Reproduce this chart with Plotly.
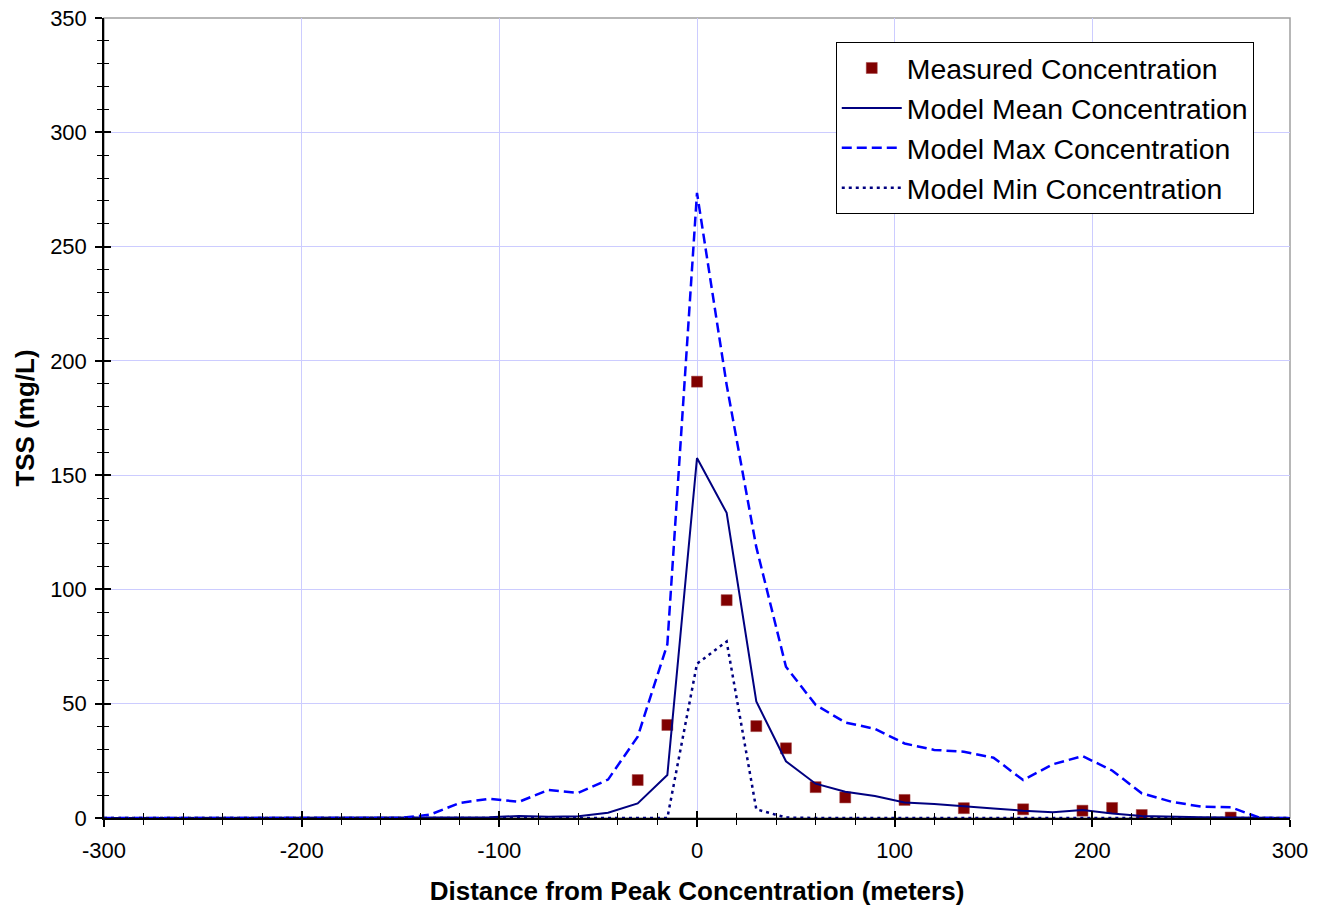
import plotly.graph_objects as go

# Model x positions (meters) every 15 m
model_x = [-300, -285, -270, -255, -240, -225, -210, -195, -180, -165, -150, -135, -120, -105, -90, -75, -60, -45, -30, -15,
           0, 15, 30, 45, 60, 75, 90, 105, 120, 135, 150, 165, 180, 195, 210, 225, 240, 255, 270, 285, 300]
model_mean = [0, 0, 0, 0, 0, 0, 0, 0, 0, 0, 0, 0, 0.1, 0.3, 0.9, 0.5, 0.8, 2.3, 6.4, 18.8,
              157.5, 133.5, 51.0, 24.8, 15.0, 11.5, 9.6, 6.8, 6.1, 5.0, 4.2, 3.2, 2.5, 3.5, 2.0, 0.9, 0.5, 0.3, 0.2, 0, 0]
model_max = [0, 0, 0, 0, 0, 0, 0, 0, 0, 0, 0, 1.5, 6.6, 8.4, 7.1, 12.3, 11.0, 16.8, 35.6, 76.0,
             273.5, 189.5, 118.5, 66.2, 49.5, 41.8, 39.0, 32.6, 29.8, 29.0, 26.4, 16.6, 23.5, 27.1, 20.8, 10.8, 7.1, 5.0, 4.7, 0, 0]
model_min = [0, 0, 0, 0, 0, 0, 0, 0, 0, 0, 0, 0, 0, 0, 0, 0, 0, 0, 0, 0,
             67.5, 77.2, 3.8, 0.2, 0, 0, 0, 0, 0, 0, 0, 0, 0, 0, 0, 0, 0, 0, 0, 0, 0]

meas_x = [-30, -15, 0, 15, 30, 45, 60, 75, 105, 135, 165, 195, 210, 225, 270]
meas_y = [16.6, 40.7, 190.9, 95.3, 40.2, 30.5, 13.5, 9.0, 7.9, 4.3, 3.8, 3.2, 4.4, 1.3, 0.2]

x_tick_vals = [-300, -200, -100, 0, 100, 200, 300]
x_tick_labels = ["-300", "-200", "-100", "0", "100", "200", "300"]

x_title = "Distance from Peak Concentration (meters)"
y_title = "TSS (mg/L)"

FONT = "Liberation Sans, Arial, sans-serif"

fig = go.Figure()
fig.add_trace(go.Scatter(x=meas_x, y=meas_y, mode="markers", name="Measured Concentration",
                         marker=dict(symbol="square", size=11, color="#800000",
                                     line=dict(width=0.5, color="#a04040"))))
fig.add_trace(go.Scatter(x=model_x, y=model_mean, mode="lines", name="Model Mean Concentration",
                         line=dict(color="#000080", width=2)))
fig.add_trace(go.Scatter(x=model_x, y=model_max, mode="lines", name="Model Max Concentration",
                         line=dict(color="#0000ff", width=2.5, dash="10px,5px")))
fig.add_trace(go.Scatter(x=model_x, y=model_min, mode="lines", name="Model Min Concentration",
                         line=dict(color="#000080", width=2.5, dash="3px,4px")))

# invisible trace to activate the overlay axes for crossing ticks
fig.add_trace(go.Scatter(x=[model_x[0]], y=[0], xaxis="x2", yaxis="y2", mode="markers",
                         marker=dict(opacity=0), showlegend=False, hoverinfo="skip"))

grid = "#ccccff"
fig.update_layout(
    width=1324, height=908,
    margin=dict(l=104, r=34, t=18, b=90, autoexpand=False),
    paper_bgcolor="white", plot_bgcolor="white",
    font=dict(family=FONT, color="black", size=22),
    showlegend=True,
    legend=dict(x=0.617, y=0.97, xanchor="left", yanchor="top",
                bordercolor="black", borderwidth=1, bgcolor="white",
                font=dict(size=28.4, family=FONT), itemwidth=60, tracegroupgap=0),
    xaxis=dict(range=[-300, 300], tickmode="array", tickvals=x_tick_vals, ticktext=x_tick_labels,
               showgrid=True, gridcolor=grid, gridwidth=1,
               zeroline=False, showline=True, linecolor="black", linewidth=1.5, automargin=False,
               ticks="outside", ticklen=7, tickcolor="black", tickwidth=1.5, ticklabelstandoff=5,
               minor=dict(dtick=20, tick0=0, ticks="outside", ticklen=5, tickcolor="black", tickwidth=1, showgrid=False),
               title=dict(text="<b>" + x_title + "</b>", font=dict(size=26), standoff=20),
               tickfont=dict(size=22)),
    yaxis=dict(range=[0, 350], dtick=50, tick0=0, showgrid=True, gridcolor=grid, gridwidth=1,
               zeroline=False, showline=True, linecolor="black", linewidth=1.5, automargin=False,
               ticks="outside", ticklen=7, tickcolor="black", tickwidth=1.5, ticklabelstandoff=4,
               minor=dict(dtick=10, ticks="outside", ticklen=5, tickcolor="black", tickwidth=1, showgrid=False),
               title=dict(text="<b>" + y_title + "</b>", font=dict(size=26), standoff=8),
               tickfont=dict(size=22)),
    xaxis2=dict(range=[-300, 300], overlaying="x", side="bottom", anchor="y2", dtick=100, tick0=0,
                showgrid=False, zeroline=False, showline=False, showticklabels=False, automargin=False,
                ticks="inside", ticklen=7, tickcolor="black", tickwidth=1.5,
                minor=dict(dtick=20, ticks="inside", ticklen=5, tickcolor="black", tickwidth=1)),
    yaxis2=dict(range=[0, 350], overlaying="y", side="left", anchor="x2", dtick=50, tick0=0,
                showgrid=False, zeroline=False, showline=False, showticklabels=False, automargin=False,
                ticks="inside", ticklen=7, tickcolor="black", tickwidth=1.5,
                minor=dict(dtick=10, ticks="inside", ticklen=5, tickcolor="black", tickwidth=1)),
    shapes=[dict(type="rect", xref="paper", yref="paper", x0=0, x1=1, y0=0, y1=1,
                 line=dict(color="#a0a0a0", width=1.5), layer="below")],
)

fig.write_html("out.html")
